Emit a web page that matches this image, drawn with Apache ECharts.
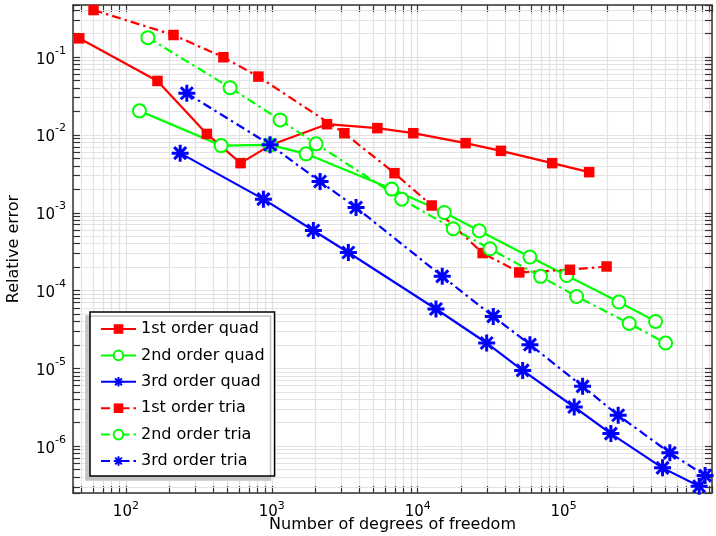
<!DOCTYPE html>
<html>
<head>
<meta charset="utf-8">
<style>
  html, body { margin: 0; padding: 0; background: #fff; }
  #chart { width: 716px; height: 536px; }
</style>
<script src="https://cdn.jsdelivr.net/npm/echarts@6/dist/echarts.min.js"></script>
</head>
<body>
<div id="chart"></div>
<script>
// Convergence study: relative error versus number of degrees of freedom
const seriesNames = [
  '1st order quad', '2nd order quad', '3rd order quad',
  '1st order tria', '2nd order tria', '3rd order tria'
];

const dof1Quad = [47.9, 164.6, 358.8, 611, 973, 2392, 5290, 9330, 21300, 37200, 83500, 149700];
const err1Quad = [0.175, 0.0496, 0.01035, 0.00436, 0.00738, 0.0138, 0.01227, 0.01057, 0.00787, 0.00627, 0.00436, 0.00334];

const dof2Quad = [123.9, 449.5, 973, 1718, 6637, 15210, 26420, 58770, 104900, 239300, 426600];
const err2Quad = [0.02046, 0.00733, 0.00748, 0.00574, 0.002022, 0.001012, 0.000589, 0.000271, 0.000157, 7.16e-5, 4.04e-5];

const dof3Quad = [235.5, 876, 1927, 3347, 13340, 29700, 52400, 118200, 210800, 476500, 849000];
const err3Quad = [0.00586, 0.001503, 0.000594, 0.000310, 5.82e-5, 2.13e-5, 9.48e-6, 3.21e-6, 1.46e-6, 5.30e-7, 3.08e-7];

const dof1Tria = [60, 212, 466, 809, 3143, 6934, 12470, 27870, 49650, 110500, 197000];
const err1Tria = [0.404, 0.193, 0.1, 0.0564, 0.01057, 0.00324, 0.001245, 0.000305, 0.000172, 0.000186, 0.000205];

const dof2Tria = [141.5, 517.8, 1140, 2011, 7766, 17530, 31280, 69550, 122700, 281400, 499800];
const err2Tria = [0.1786, 0.0407, 0.01567, 0.00771, 0.001503, 0.000625, 0.000346, 0.000153, 8.45e-5, 3.80e-5, 2.13e-5];

const dof3Tria = [261.6, 973, 2142, 3780, 14730, 32950, 58770, 134900, 236600, 534600, 933000];
const err3Tria = [0.0345, 0.0075, 0.00253, 0.001173, 0.000153, 4.68e-5, 2.03e-5, 5.91e-6, 2.51e-6, 8.26e-7, 4.22e-7];

// Axis ranges and labelled decades (exponents of ten)
const xRange = [43.4, 1.04e6];
const yRange = [2.52e-7, 0.469];
const xLabelExponents = [2, 3, 4, 5];
const yLabelExponents = [-6, -5, -4, -3, -2, -1];

const FONT = 'DejaVu Sans';
const AXIS_COLOR = '#333333';
const GRID_COLOR = '#e2e2e2';
const TICK_LEN = 7;
const LINE_WIDTH = 2.2;
const DASH_DOT = [9, 4, 2.5, 4];
const STAR = 'path://M0 10 L20 10 M10 0 L10 20 M2.93 2.93 L17.07 17.07 M17.07 2.93 L2.93 17.07';

function pairs(xs, ys) { return xs.map((x, i) => [x, ys[i]]); }

// 2..9 times each power of ten that falls inside the range
function minorValues(lo, hi) {
  const out = [];
  for (let e = Math.floor(Math.log10(lo)); e <= Math.ceil(Math.log10(hi)); e++) {
    for (let m = 2; m <= 9; m++) {
      const v = m * Math.pow(10, e);
      if (v > lo && v < hi) out.push(v);
    }
  }
  return out;
}

function powerLabel(exponents) {
  return function (v) {
    const e = Math.log10(v);
    const r = Math.round(e);
    if (Math.abs(e - r) > 1e-6 || exponents.indexOf(r) < 0) return '';
    return '{b|10}{s|' + r + '}';
  };
}

const xLabelRich = {
  b: { fontSize: 15, fontFamily: FONT, color: '#000', lineHeight: 15 },
  s: { fontSize: 11, fontFamily: FONT, color: '#000', lineHeight: 11, padding: [0, 0, 13, 0] }
};
const yLabelRich = {
  b: { fontSize: 15, fontFamily: FONT, color: '#000', lineHeight: 15, padding: [5, 0, 0, 0] },
  s: { fontSize: 11, fontFamily: FONT, color: '#000', lineHeight: 11, padding: [0, 0, 13, 0] }
};

function crisp(v) { return Math.round(v - 0.5) + 0.5; }

// minor grid lines and inward ticks on all four sides of the frame
function minorXRender(params, api) {
  const cs = params.coordSys;
  const px = crisp(api.coord([api.value(0), api.value(1)])[0]);
  const top = cs.y, bottom = cs.y + cs.height;
  return {
    type: 'group',
    children: [
      { type: 'line', shape: { x1: px, y1: top, x2: px, y2: bottom }, style: { stroke: GRID_COLOR, lineWidth: 1.2 } },
      { type: 'line', shape: { x1: px, y1: bottom, x2: px, y2: bottom - TICK_LEN }, style: { stroke: AXIS_COLOR, lineWidth: 1.2 } },
      { type: 'line', shape: { x1: px, y1: top, x2: px, y2: top + TICK_LEN }, style: { stroke: AXIS_COLOR, lineWidth: 1.2 } }
    ]
  };
}
function minorYRender(params, api) {
  const cs = params.coordSys;
  const py = crisp(api.coord([api.value(0), api.value(1)])[1]);
  const left = cs.x, right = cs.x + cs.width;
  return {
    type: 'group',
    children: [
      { type: 'line', shape: { x1: left, y1: py, x2: right, y2: py }, style: { stroke: GRID_COLOR, lineWidth: 1.2 } },
      { type: 'line', shape: { x1: left, y1: py, x2: left + TICK_LEN, y2: py }, style: { stroke: AXIS_COLOR, lineWidth: 1.2 } },
      { type: 'line', shape: { x1: right, y1: py, x2: right - TICK_LEN, y2: py }, style: { stroke: AXIS_COLOR, lineWidth: 1.2 } }
    ]
  };
}

function lineSeries(name, xs, ys, color, dashed, kind) {
  const s = {
    name: name,
    type: 'line',
    data: pairs(xs, ys),
    z: 3,
    showSymbol: true,
    lineStyle: { color: color, width: LINE_WIDTH, type: dashed ? DASH_DOT : 'solid', cap: 'butt' },
    emphasis: { disabled: true }
  };
  if (kind === 'square') {
    s.symbol = 'rect';
    s.symbolSize = 10.5;
    s.itemStyle = { color: color };
  } else if (kind === 'circle') {
    s.symbol = 'emptyCircle';
    s.symbolSize = 13;
    s.itemStyle = { color: color, borderColor: color, borderWidth: 2 };
  } else {
    s.symbol = STAR;
    s.symbolSize = 17;
    s.itemStyle = { color: color, borderColor: color, borderWidth: 3 };
  }
  return s;
}

function axisCommon() {
  return {
    type: 'log',
    logBase: 10,
    axisLine: { show: true, onZero: false, lineStyle: { color: AXIS_COLOR, width: 1.5 } },
    axisTick: { show: true, inside: true, length: TICK_LEN, lineStyle: { color: AXIS_COLOR, width: 1.2 } },
    minorTick: { show: false },
    minorSplitLine: { show: false }
  };
}

const chart = echarts.init(document.getElementById('chart'), null, { renderer: 'canvas' });

const xMinor = minorValues(xRange[0], xRange[1]);
const yMinor = minorValues(yRange[0], yRange[1]);

// legend entries; the star entries get a finer stroke at legend size
const legendData = seriesNames.map((n, i) => (
  i % 3 === 2 ? { name: n, itemStyle: { borderWidth: 2 } } : { name: n }
));

const option = {
  animation: false,
  backgroundColor: '#ffffff',
  grid: { left: 73, right: 4, top: 5, bottom: 43, containLabel: false, outerBoundsMode: 'none' },
  xAxis: [
    Object.assign(axisCommon(), {
      min: xRange[0], max: xRange[1], position: 'bottom',
      splitLine: { show: true, lineStyle: { color: GRID_COLOR, width: 1.2 } },
      axisLabel: { show: true, margin: 12, formatter: powerLabel(xLabelExponents), rich: xLabelRich, showMinLabel: true, showMaxLabel: true, hideOverlap: false },
      name: 'Number of degrees of freedom', nameLocation: 'middle', nameGap: 24, nameMoveOverlap: false,
      nameTextStyle: { fontSize: 16, fontFamily: FONT, color: '#000' }
    }),
    Object.assign(axisCommon(), {
      min: xRange[0], max: xRange[1], position: 'top',
      splitLine: { show: false }, axisLabel: { show: false }
    })
  ],
  yAxis: [
    Object.assign(axisCommon(), {
      min: yRange[0], max: yRange[1], position: 'left',
      splitLine: { show: true, lineStyle: { color: GRID_COLOR, width: 1.2 } },
      axisLabel: { show: true, margin: 7, formatter: powerLabel(yLabelExponents), rich: yLabelRich, showMinLabel: true, showMaxLabel: true, hideOverlap: false },
      name: 'Relative error', nameLocation: 'middle', nameGap: 51, nameRotate: 90, nameMoveOverlap: false,
      nameTextStyle: { fontSize: 16, fontFamily: FONT, color: '#000' }
    }),
    Object.assign(axisCommon(), {
      min: yRange[0], max: yRange[1], position: 'right',
      splitLine: { show: false }, axisLabel: { show: false }
    })
  ],
  legend: {
    orient: 'vertical',
    left: 90, top: 312,
    padding: [9, 10, 7, 10],
    itemWidth: 35, itemHeight: 12, itemGap: 10.4,
    backgroundColor: '#ffffff',
    borderColor: '#000000', borderWidth: 1.5, borderRadius: 0,
    shadowColor: '#c4c4c4', shadowBlur: 0, shadowOffsetX: -4, shadowOffsetY: 4,
    textStyle: { fontSize: 16, fontFamily: FONT, color: '#000' },
    selectedMode: false,
    data: legendData
  },
  series: [
    { name: 'minor-x', type: 'custom', silent: true, z: 1, xAxisIndex: 0, yAxisIndex: 0,
      renderItem: minorXRender, data: xMinor.map(v => [v, 1e-3]) },
    { name: 'minor-y', type: 'custom', silent: true, z: 1, xAxisIndex: 0, yAxisIndex: 0,
      renderItem: minorYRender, data: yMinor.map(v => [1000, v]) },
    lineSeries(seriesNames[0], dof1Quad, err1Quad, '#ff0000', false, 'square'),
    lineSeries(seriesNames[1], dof2Quad, err2Quad, '#00ff00', false, 'circle'),
    lineSeries(seriesNames[2], dof3Quad, err3Quad, '#0000ff', false, 'star'),
    lineSeries(seriesNames[3], dof1Tria, err1Tria, '#ff0000', true, 'square'),
    lineSeries(seriesNames[4], dof2Tria, err2Tria, '#00ff00', true, 'circle'),
    lineSeries(seriesNames[5], dof3Tria, err3Tria, '#0000ff', true, 'star')
  ]
};

chart.setOption(option);
</script>
</body>
</html>
